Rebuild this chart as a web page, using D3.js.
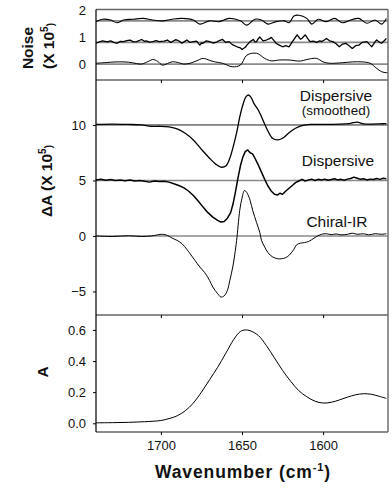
<!DOCTYPE html>
<html>
<head>
<meta charset="utf-8">
<script src="https://cdn.jsdelivr.net/npm/d3@7"></script>
<style>
  body { margin: 0; background: #fff; }
  svg text { font-family: "Liberation Sans", Arial, sans-serif; fill: #111; }
  .tick-label { font-size: 13px; }
  .axis-title { font-size: 15.5px; font-weight: bold; }
  .trace-label { font-size: 15.5px; }
</style>
</head>
<body>
<div class="chart"></div>
<script>
// wavenumber axis
const x_ticks = [1700, 1650, 1600];

// noise panel (x 10^5), each trace stored relative to its own baseline
const noise_offsets = [0, 0.8, 1.6];
const noise_ticks = [0, 1, 2];
const noise_low = [
  [1740, 0.03], [1735, 0.05], [1727, 0.08], [1720, 0.07], [1715, 0.02], [1712, 0.0],
  [1707, 0.12], [1705, 0.17], [1702, 0.1], [1699, -0.04], [1696, 0.02], [1693, 0.085],
  [1689, 0.05], [1686, 0.0], [1682, 0.03], [1678, 0.12], [1674, 0.21], [1670, 0.14],
  [1667, 0.085], [1662, 0.03], [1656, -0.1], [1651, -0.04], [1647, 0.33], [1641, 0.4],
  [1636, 0.21], [1632, 0.12], [1627, 0.15], [1621, 0.15], [1614, 0.11], [1610, 0.17],
  [1604, 0.21], [1600, 0.08], [1596, 0.03], [1588, 0.05], [1582, 0.08], [1576, 0.08],
  [1571, 0.03], [1567, -0.16], [1564, -0.28], [1561, -0.32], [1560, -0.3]
];
const noise_mid = [
  [1740, -0.03], [1738, 0.02], [1736, 0.06], [1733, 0.02], [1731, 0.06], [1729, 0.0],
  [1727, -0.03], [1725, 0.04], [1723, 0.03], [1721, 0.07], [1719, 0.09], [1717, 0.02],
  [1715, 0.03], [1713, 0.08], [1712, 0.11], [1710, 0.04], [1709, 0.06], [1707, 0.01],
  [1705, 0.03], [1703, 0.07], [1701, 0.03], [1698, 0.05], [1696, 0.09], [1694, 0.0],
  [1693, 0.03], [1691, 0.1], [1690, 0.09], [1688, 0.02], [1687, -0.03], [1685, 0.05],
  [1684, 0.09], [1682, 0.0], [1680, 0.03], [1678, 0.05], [1676, -0.1], [1675, -0.02],
  [1674, -0.03], [1672, 0.06], [1670, 0.03], [1668, -0.02], [1666, 0.0], [1664, 0.07],
  [1662, 0.11], [1660, 0.0], [1658, 0.03], [1656, -0.08], [1653, -0.16], [1651, -0.2],
  [1650, -0.26], [1648, -0.18], [1647, -0.1], [1645, 0.03], [1643, 0.11], [1642, 0.02],
  [1641, 0.03], [1640, 0.14], [1639, 0.2], [1637, 0.06], [1635, 0.09], [1633, 0.14],
  [1632, 0.19], [1630, 0.05], [1629, -0.03], [1627, -0.1], [1625, -0.16], [1623, -0.12],
  [1621, -0.16], [1619, 0.02], [1617, 0.2], [1616, 0.28], [1614, 0.12], [1613, 0.15],
  [1612, 0.22], [1611, 0.28], [1609, 0.1], [1608, 0.03], [1606, 0.05], [1604, 0.0],
  [1602, 0.06], [1601, 0.03], [1599, 0.1], [1598, 0.15], [1596, 0.06], [1594, 0.03],
  [1592, -0.05], [1590, -0.16], [1588, -0.06], [1586, -0.03], [1584, -0.12], [1582, -0.22],
  [1580, -0.12], [1578, -0.1], [1576, 0.0], [1573, 0.03], [1571, -0.1], [1570, -0.16],
  [1568, 0.02], [1567, 0.09], [1565, 0.0], [1564, -0.03], [1562, 0.08], [1561, 0.15]
];
const noise_high = [
  [1740, -0.03], [1736, 0.06], [1731, 0.03], [1727, -0.07], [1723, 0.03], [1717, 0.06],
  [1711, 0.09], [1705, 0.03], [1699, 0.0], [1693, 0.06], [1687, 0.09], [1680, 0.03],
  [1676, -0.12], [1670, 0.0], [1664, -0.03], [1658, 0.09], [1651, 0.0], [1647, -0.16],
  [1642, 0.06], [1638, 0.03], [1634, -0.12], [1629, -0.03], [1624, 0.0], [1621, -0.07],
  [1618, 0.18], [1615, 0.21], [1610, 0.09], [1607, -0.12], [1603, 0.06], [1598, -0.03],
  [1593, 0.09], [1588, -0.07], [1583, 0.03], [1578, 0.09], [1573, -0.09], [1568, 0.03],
  [1564, -0.12], [1561, 0.09]
];

// delta A panel (x 10^5), traces stored relative to their offsets
const delta_ticks = [-5, 0, 5, 10];
const delta_offsets = {chiral: 0, dispersive: 5, smoothed: 10};
const trace_labels = ['Dispersive', '(smoothed)', 'Dispersive', 'Chiral-IR'];
const smoothed = [
  [1740, 0.05], [1730, 0.08], [1720, 0.05], [1712, 0.0], [1706, -0.12], [1700, -0.12],
  [1695, -0.18], [1690, -0.35], [1685, -0.75], [1680, -1.35], [1675, -2.2], [1670, -3.0],
  [1666, -3.55], [1663, -3.8], [1660, -3.7], [1657.5, -3.0], [1655.5, -2.0], [1653.3, -0.7],
  [1651.4, 0.7], [1649.5, 1.8], [1647.5, 2.55], [1646, 2.7], [1644.5, 2.5], [1642.5, 1.9],
  [1640, 1.35], [1637.9, 0.7], [1634.2, -0.5], [1631.2, -1.2], [1628, -1.35], [1625, -1.2],
  [1621, -0.7], [1617, -0.3], [1613, -0.05], [1608, 0.05], [1600, 0.05], [1590, 0.08],
  [1583, 0.15], [1579, 0.25], [1575, 0.1], [1570, 0.08], [1565, 0.1], [1561, 0.12]
];
const dispersive = [
  [1740, 0.05], [1737, 0.1], [1734, 0.02], [1731, 0.08], [1728, 0.0], [1725, 0.05],
  [1722, -0.02], [1719, 0.04], [1716, -0.05], [1713, 0.0], [1710, -0.08], [1707, -0.15],
  [1704, -0.05], [1701, -0.1], [1698, -0.08], [1695, -0.15], [1692, -0.3], [1689, -0.45],
  [1686, -0.65], [1683, -0.95], [1680, -1.35], [1677, -1.85], [1674, -2.4], [1671, -2.9],
  [1668, -3.3], [1665, -3.6], [1663, -3.75], [1661, -3.7], [1659, -3.4], [1657, -2.9],
  [1655.5, -2.1], [1654, -1.0], [1652.5, 0.2], [1651, 1.3], [1649.5, 2.1], [1648, 2.6],
  [1646.5, 2.75], [1645, 2.5], [1643.5, 2.4], [1642, 2.0], [1640, 1.4], [1638, 0.75],
  [1636, 0.1], [1634, -0.5], [1632, -0.95], [1630, -1.25], [1628, -1.3], [1626.5, -1.15],
  [1625, -1.25], [1623, -0.95], [1621, -0.7], [1619, -0.45], [1617, -0.2], [1615, -0.05],
  [1613, 0.1], [1611, -0.05], [1609, 0.05], [1607, 0.12], [1605, 0.0], [1603, 0.1],
  [1601, 0.05], [1599, 0.12], [1597, 0.02], [1595, 0.08], [1593, 0.15], [1591, 0.05],
  [1589, 0.1], [1587, 0.02], [1585, 0.12], [1583, 0.18], [1581, 0.3], [1579, 0.2],
  [1577, 0.1], [1575, 0.15], [1573, 0.05], [1571, 0.12], [1569, 0.08], [1567, 0.18],
  [1565, 0.1], [1563, 0.2], [1561, 0.15]
];
const chiral_ir = [
  [1740, 0.0], [1730, -0.05], [1720, 0.02], [1712, -0.05], [1706, 0.0], [1702, 0.1],
  [1699, 0.15], [1696, 0.05], [1693, -0.2], [1690, -0.4], [1687, -0.7], [1684, -1.2],
  [1682, -1.6], [1679, -2.2], [1676, -2.8], [1673, -3.3], [1670, -4.0], [1668, -4.6],
  [1665, -5.2], [1663, -5.5], [1661, -5.4], [1659, -4.9], [1657.5, -4.0], [1655.7, -2.8],
  [1654.5, -1.7], [1653.3, -0.4], [1651.4, 2.3], [1650, 3.4], [1648.5, 4.1], [1647, 3.9],
  [1645, 3.2], [1643.4, 2.3], [1641, 1.2], [1639, 0.3], [1638, -0.4], [1636, -1.0],
  [1634, -1.5], [1631, -1.9], [1628, -2.05], [1625.6, -2.05], [1623, -1.95], [1620.7, -1.7],
  [1618, -1.2], [1616.4, -0.8], [1614, -0.65], [1611.5, -0.6], [1609, -0.5], [1607.2, -0.35],
  [1604, -0.05], [1601, 0.15], [1598, 0.2], [1595, 0.12], [1592, 0.18], [1589, 0.1],
  [1585, 0.15], [1582, 0.25], [1579, 0.15], [1575, 0.2], [1572, 0.1], [1568, 0.2],
  [1564, 0.15], [1561, 0.2]
];

// absorbance panel
const abs_ticks = [0.0, 0.2, 0.4, 0.6];
const absorbance = [
  [1740, 0.003], [1730, 0.004], [1720, 0.006], [1710, 0.01], [1700, 0.018], [1695, 0.03],
  [1690, 0.048], [1685, 0.08], [1680, 0.13], [1675, 0.2], [1670, 0.28], [1665, 0.36],
  [1660, 0.45], [1655, 0.54], [1651, 0.59], [1648, 0.6], [1645, 0.595], [1640, 0.565],
  [1635, 0.5], [1630, 0.42], [1625, 0.34], [1620, 0.27], [1615, 0.21], [1610, 0.17],
  [1605, 0.142], [1600, 0.13], [1595, 0.135], [1590, 0.15], [1585, 0.168], [1580, 0.183],
  [1575, 0.19], [1570, 0.186], [1565, 0.172], [1561, 0.16]
];

const svg_width = 392;
const svg_height = 491;
const left = 96, right = 388;
const panels = {
  noise: {top: 9.5, bottom: 80},
  delta: {top: 80, bottom: 315},
  abs: {top: 315, bottom: 432}
};

const svg = d3.select('.chart').append('svg')
  .attr('width', svg_width)
  .attr('height', svg_height);

const x_scale = d3.scaleLinear([1740, 1560], [left, right]);
const y_noise = d3.scaleLinear([-0.59, 2.02], [panels.noise.bottom, panels.noise.top]);
const y_delta = d3.scaleLinear([-7.12, 14.05], [panels.delta.bottom, panels.delta.top]);
const y_abs = d3.scaleLinear([-0.056, 0.696], [panels.abs.bottom, panels.abs.top]);

function line_for(y_scale, offset, curve){
  return d3.line()
    .x(d => x_scale(d[0]))
    .y(d => y_scale(d[1] + offset))
    .curve(curve);
}

// baselines (gray reference lines)
function baseline(y_scale, v, color, width){
  svg.append('line')
    .attr('x1', left).attr('x2', right)
    .attr('y1', y_scale(v)).attr('y2', y_scale(v))
    .attr('stroke', color).attr('stroke-width', width);
}
noise_offsets.forEach(v => baseline(y_noise, v, '#8a8a8a', 1.8));
baseline(y_delta, delta_offsets.smoothed, '#222', 1);
baseline(y_delta, delta_offsets.dispersive, '#8a8a8a', 1.6);
baseline(y_delta, delta_offsets.chiral, '#8a8a8a', 1.6);

// traces
const smooth = d3.curveCatmullRom.alpha(0.5);
const traces = [
  [noise_low, y_noise, noise_offsets[0], smooth, 1],
  [noise_mid, y_noise, noise_offsets[1], d3.curveLinear, 1.3],
  [noise_high, y_noise, noise_offsets[2], smooth, 1.1],
  [smoothed, y_delta, delta_offsets.smoothed, smooth, 1.3],
  [dispersive, y_delta, delta_offsets.dispersive, d3.curveLinear, 1.5],
  [chiral_ir, y_delta, delta_offsets.chiral, smooth, 1],
  [absorbance, y_abs, 0, smooth, 1]
];
traces.forEach(t => {
  svg.append('path')
    .datum(t[0])
    .attr('d', line_for(t[1], t[2], t[3]))
    .attr('fill', 'none')
    .attr('stroke', '#000')
    .attr('stroke-width', t[4])
    .attr('stroke-linejoin', 'round');
});

// frame
const frame = svg.append('g').attr('stroke', '#666').attr('stroke-width', 1.4);
frame.append('line').attr('x1', left).attr('x2', right)
  .attr('y1', panels.noise.top).attr('y2', panels.noise.top);
[panels.noise.bottom, panels.delta.bottom, panels.abs.bottom].forEach(yy => {
  frame.append('line').attr('x1', left).attr('x2', right).attr('y1', yy).attr('y2', yy);
});
frame.append('line').attr('x1', right).attr('x2', right)
  .attr('y1', panels.noise.top).attr('y2', panels.abs.bottom);

// y axes
function y_axis(y_scale, ticks, fmt, tick_size){
  const g = svg.append('g')
    .attr('transform', `translate(${left},0)`)
    .call(d3.axisLeft(y_scale).tickValues(ticks).tickFormat(fmt)
      .tickSizeInner(tick_size).tickSizeOuter(0).tickPadding(10 - tick_size));
  g.select('.domain').remove();
  g.selectAll('line').attr('stroke', '#000');
  g.selectAll('text').attr('class', 'tick-label').attr('font-family', null).attr('font-size', null);
}
y_axis(y_noise, noise_ticks, d3.format('d'), 0);
y_axis(y_delta, delta_ticks, d3.format('d'), 3);
y_axis(y_abs, abs_ticks, d3.format('.1f'), 3);

svg.append('line')
  .attr('x1', left).attr('x2', left)
  .attr('y1', panels.noise.top).attr('y2', panels.abs.bottom)
  .attr('stroke', '#000').attr('stroke-width', 1.2);

// x ticks under each panel
[panels.noise.bottom, panels.delta.bottom].forEach(yy => {
  const g = svg.append('g')
    .attr('transform', `translate(0,${yy})`)
    .call(d3.axisBottom(x_scale).tickValues(x_ticks).tickSize(3).tickFormat(''));
  g.select('.domain').remove();
  g.selectAll('line').attr('stroke', '#000');
});
const x_axis = svg.append('g')
  .attr('transform', `translate(0,${panels.abs.bottom})`)
  .call(d3.axisBottom(x_scale).tickValues(x_ticks).tickSize(3).tickPadding(6).tickFormat(d3.format('d')));
x_axis.select('.domain').remove();
x_axis.selectAll('line').attr('stroke', '#000');
x_axis.selectAll('text').attr('class', 'tick-label').attr('font-family', null).attr('font-size', null);

// trace labels
const label_pos = [[336, 101], [336, 115], [338, 166], [337, 227]];
svg.selectAll('.trace-label')
  .data(trace_labels)
  .join('text')
  .attr('class', 'trace-label')
  .attr('x', (d, i) => label_pos[i][0])
  .attr('y', (d, i) => label_pos[i][1])
  .attr('text-anchor', 'middle')
  .style('font-size', (d, i) => i === 1 ? '13.5px' : null)
  .text(d => d);

// axis titles
function rot_title(x, y, parts){
  const t = svg.append('text')
    .attr('class', 'axis-title')
    .attr('text-anchor', 'middle')
    .attr('transform', `translate(${x},${y}) rotate(-90)`);
  parts.forEach(p => {
    const s = t.append('tspan').text(p[0]);
    if (p[1]) s.attr('dy', p[1]).style('font-size', '10px');
  });
  return t;
}
rot_title(33, 48, [['Noise']]);
rot_title(54, 46, [['(X 10'], ['5', '-6'], [')', '6']]);
rot_title(52, 181, [['\u0394A (X 10'], ['5', '-6'], [')', '6']]);
rot_title(48, 372, [['A']]);

const xt = svg.append('text')
  .attr('class', 'axis-title')
  .attr('x', 243).attr('y', 478)
  .attr('text-anchor', 'middle')
  .style('font-size', '17.5px')
  .style('letter-spacing', '0.9px');
xt.append('tspan').text('Wavenumber (cm');
xt.append('tspan').text('-1').attr('dy', -7).style('font-size', '11px');
xt.append('tspan').text(')').attr('dy', 7);
</script>
</body>
</html>
